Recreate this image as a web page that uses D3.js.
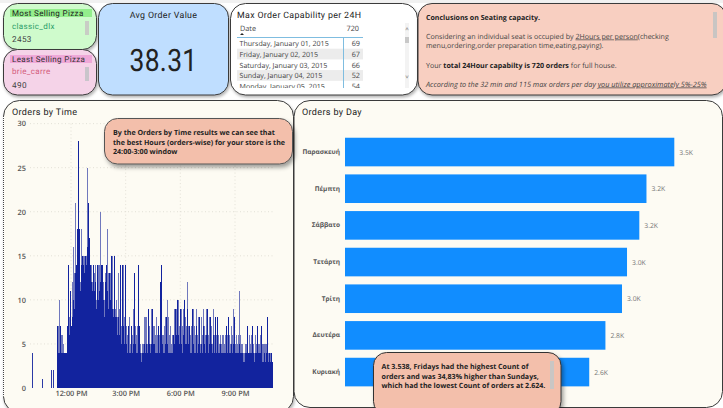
<!DOCTYPE html>
<html><head><meta charset="utf-8">
<script src="https://cdnjs.cloudflare.com/ajax/libs/d3/7.8.5/d3.min.js"></script>
<style>
html,body{margin:0;padding:0;background:#fff;overflow:hidden}
svg{display:block}
text{font-family:"Open Sans",sans-serif;text-rendering:geometricPrecision}
.din{font-family:Roboto,sans-serif;letter-spacing:.35px}
.tick text{font-family:"Open Sans",sans-serif}
</style></head><body>
<svg id="c" width="723" height="408"></svg>
<script>
// ---- data ----
const dayNames = ["Παρασκευή","Πέμπτη","Σάββατο","Τετάρτη","Τρίτη","Δευτέρα","Κυριακή"];
const dayOrders = [3538,3239,3162,3030,2976,2798,2624];
const timeTicks = [720,900,1080,1260];
const timeTickLabels = ["12:00 PM","3:00 PM","6:00 PM","9:00 PM"];
const countTicks = [0,5,10,15,20,25,30];
const earlyMinutes = [593,625,653,662];
const earlyOrders = [4,1,2,2];
const firstMinute = 674, minuteStep = 3.293;
const ordersPeak = [
7,7,10,7,6,6,5,4,4,4, 7,14,8,11,7,12,16,13,21,14,
18,28,18,12,18,15,15,15,15,15, 25,21,17,14,14,12,14,13,14,10,
14,14,14,20,14,14,12,10,13,14, 18,13,13,13,15,15,9,15,9,10,
8,13,9,14,7,14,14,8,14,7, 6,7,8,5,7,6,9,13,7,6,
7,14,7,5,4,5,5,8,8,8, 5,9,7,5,9,9,7,7,6,8,
6,7,6,12,14,6,6,7,8,8, 10,8,6,7,5,6,6,9,9,9,
10,10,7,9,9,7,9,10,8,7, 12,7,7,6,7,9,9,7,6,9,
6,8,8,5,8,6,9,7,6,9, 9,6,8,8,7,5,9,6,8,6,
8,6,5,6,5,6,6,5,6,7, 6,8,6,5,7,6,9,8,5,6,
5,6,11,6,5,5,4,4,5,5, 7,4,6,5,6,7,5,4,6,5,
7,5,5,6,7,5,5,5,5,5, 8,4,4,4,4,3];
const ordersCore = [
7,4,4,7,4,4,4,4,4,4, 7,14,6,11,7,8,10,9,13,14,
18,28,18,11,14,15,14,13,15,14, 16,21,17,14,12,11,14,11,12,9,
14,10,11,12,14,14,10,8,12,14, 11,9,13,10,15,9,8,15,8,8,
6,8,6,14,5,14,7,5,14,5, 4,7,4,4,7,4,5,13,5,4,
4,14,7,4,3,4,4,5,4,5, 4,9,5,4,5,9,5,5,4,4,
4,7,4,12,14,5,4,4,5,8, 5,4,4,4,4,4,6,5,9,6,
10,6,5,9,5,4,6,10,5,5, 9,5,7,4,4,9,5,4,4,7,
4,5,8,4,5,4,7,5,4,6, 9,4,5,8,5,4,6,4,8,4,
8,4,4,5,4,4,4,4,4,7, 4,8,4,4,5,4,5,8,4,4,
4,4,5,4,4,4,3,3,4,4, 7,4,4,4,4,7,4,3,4,4,
7,4,4,4,7,3,3,4,3,4, 8,3,4,3,4,3];
const tableDates = ["Thursday, January 01, 2015","Friday, January 02, 2015","Saturday, January 03, 2015","Sunday, January 04, 2015","Monday, January 05, 2015"];
const tableCounts = [69,67,66,52,54];

// ---- helpers ----
const svg = d3.select("#c");
const defs = svg.append("defs");
const f = defs.append("filter").attr("id","sh").attr("x","-10%").attr("y","-10%").attr("width","125%").attr("height","130%");
f.append("feDropShadow").attr("dx",2).attr("dy",3).attr("stdDeviation",2.2).attr("flood-color","#000").attr("flood-opacity",.38);
const f2 = defs.append("filter").attr("id","sh2").attr("x","-5%").attr("y","-10%").attr("width","110%").attr("height","125%");
f2.append("feDropShadow").attr("dx",1).attr("dy",2).attr("stdDeviation",1.5).attr("flood-color","#000").attr("flood-opacity",.3);
const clipT = defs.append("clipPath").attr("id","tc"); clipT.append("rect").attr("x",232).attr("y",36).attr("width",135).attr("height",52);

function card(x,y,w,h,r,fill,opt={}){
  return svg.append("rect").attr("x",x).attr("y",y).attr("width",w).attr("height",h).attr("rx",r)
    .attr("fill",fill).attr("stroke",opt.stroke||"#3a3a3a").attr("stroke-width",opt.sw||1)
    .attr("filter",opt.filter||null);
}
function txt(x,y,s,size,fill,opt={}){
  const t = svg.append("text").attr("x",x).attr("y",y).attr("font-size",size).attr("fill",fill).text(s);
  if(opt.cls) t.attr("class",opt.cls);
  if(opt.anchor) t.attr("text-anchor",opt.anchor);
  if(opt.weight) t.attr("font-weight",opt.weight);
  return t;
}
function rect(x,y,w,h,fill){return svg.append("rect").attr("x",x).attr("y",y).attr("width",w).attr("height",h).attr("fill",fill);}

// top strip
rect(0,0,723,3,"#f1f1f1");

// lower panels
card(3.5,100.5,290,312,16,"#fdfbf3",{filter:"url(#sh2)"});
card(294,100.5,428.5,307,16,"#fdfbf3");
svg.append("line").attr("x1",3.5).attr("x2",3.5).attr("y1",116).attr("y2",396).attr("stroke","#fff").attr("stroke-width",1.2);
svg.append("line").attr("x1",3.5).attr("x2",3.5).attr("y1",116).attr("y2",396).attr("stroke","#444").attr("stroke-width",1).attr("stroke-dasharray","1 1");

// top cards
card(3.5,3.5,93,46,14,"#cffbcc",{filter:"url(#sh2)"});
rect(10,9,82,8,"#93ee8c");
txt(12,16,"Most Selling Pizza",8,"#222",{cls:"din"});
txt(12,28.5,"classic_dlx",8,"#2a9d68",{cls:"din"});
txt(12,42,"2453",8.2,"#444",{cls:"din"});
rect(85,21,4,14,"#c9cdc5");

card(3.5,49.5,93,45.5,14,"#f5d3e8",{filter:"url(#sh2)"});
rect(10,55,82,8,"#efa8d8");
txt(12,62,"Least Selling Pizza",8,"#333",{cls:"din"});
txt(12,74,"brie_carre",8,"#d4607e",{cls:"din"});
txt(12,88,"490",8.2,"#444",{cls:"din"});
rect(85,67,4,14,"#c9c5cb");

card(98.5,3.5,130,91.5,14,"#bfdeff",{filter:"url(#sh2)"});
txt(163.5,17.5,"Avg Order Value",8.8,"#222",{cls:"din",anchor:"middle"});
txt(129.5,70.5,"38.31",31,"#222",{cls:"din"}).attr("textLength",68).attr("lengthAdjust","spacingAndGlyphs");

// table card
card(230.5,3.5,187,91.5,15,"#ffffff",{filter:"url(#sh2)"});
txt(237,18,"Max Order Capability per 24H",8.8,"#222",{cls:"din"});
txt(240,31,"Date",7.3,"#444");
txt(359,31,"720",7.3,"#444",{anchor:"end"});
svg.append("path").attr("d",d3.line()([[240,35],[244,35],[242,33]])).attr("fill","#222");
const rowG = svg.append("g").attr("clip-path","url(#tc)");
const rowY = d3.scaleBand().domain(d3.range(tableDates.length)).range([38,91.5]);
rowG.selectAll("rect").data(tableDates).join("rect").attr("x",237).attr("width",126)
  .attr("y",(d,i)=>rowY(i)).attr("height",rowY.bandwidth())
  .attr("fill",(d,i)=>i%2?"#ececec":"none");
rowG.selectAll("text.d").data(tableDates).join("text").attr("class","d").attr("x",239.5)
  .attr("y",(d,i)=>rowY(i)+8.2).attr("font-size",7.1).attr("fill","#444").text(d=>d);
rowG.selectAll("text.n").data(tableCounts).join("text").attr("class","n").attr("x",360).attr("text-anchor","end")
  .attr("y",(d,i)=>rowY(i)+8.2).attr("font-size",7.3).attr("fill","#444").text(d=>d);
svg.append("line").attr("x1",237).attr("x2",363).attr("y1",37.5).attr("y2",37.5).attr("stroke","#7fbde0");
svg.append("line").attr("x1",343.5).attr("x2",343.5).attr("y1",37.5).attr("y2",88).attr("stroke","#7fbde0");
rect(405,23,4,65,"#f3f3f3"); rect(405,37,4,6,"#c8c8c8");
txt(407,31,"˄",6,"#666",{anchor:"middle"}); txt(407,79,"˅",6,"#666",{anchor:"middle"});

// conclusions card
card(418,3.5,308,91.5,14,"#f8cfc1",{filter:"url(#sh2)"});
rect(713,12,4,26,"#c9c5c3");
txt(426,20,"Conclusions on Seating capacity.",7.05,"#222",{weight:700});
const l1 = txt(426,38.5,"Considering an individual seat is occupied by ",7.1,"#444");
l1.append("tspan").attr("text-decoration","underline").text("2Hours per person");
l1.append("tspan").text("(checking");
txt(426,48,"menu,ordering,order preparation time,eating,paying).",7.1,"#444");
const l2 = txt(426,67.5,"Your ",7.1,"#444");
l2.append("tspan").attr("font-weight",700).attr("fill","#222").text("total 24Hour capabilty is 720 orders");
l2.append("tspan").text(" for full house.");
const l3 = txt(426,86.5,"According to the 32 min and 115 max orders per day ",7.3,"#444").attr("font-style","italic");
l3.append("tspan").attr("text-decoration","underline").text("you utilize approximately 5%-25%");

// ---- Orders by Time ----
txt(12,115,"Orders by Time",9,"#222",{cls:"din"});
const x = d3.scaleLinear().domain([720,1260]).range([71,235]);
const y = d3.scaleLinear().domain([0,30]).range([388,123.6]);
const gT = svg.append("g");
gT.selectAll("line.h").data(countTicks.slice(1)).join("line").attr("class","h")
  .attr("x1",30).attr("x2",274).attr("y1",d=>y(d)).attr("y2",d=>y(d))
  .attr("stroke","#d9d6cc").attr("stroke-width",.7).attr("stroke-dasharray","1 2.5");
gT.selectAll("line.v").data(timeTicks).join("line").attr("class","v")
  .attr("x1",d=>x(d)).attr("x2",d=>x(d)).attr("y1",123.6).attr("y2",388)
  .attr("stroke","#d9d6cc").attr("stroke-width",.7).attr("stroke-dasharray","1 2.5");
const minuteOf = (d,i)=>firstMinute+i*minuteStep;
gT.selectAll("rect.peak").data(ordersPeak).join("rect").attr("class","peak")
  .attr("shape-rendering","crispEdges")
  .attr("x",(d,i)=>Math.round(x(minuteOf(d,i)))).attr("width",1)
  .attr("y",d=>y(d)).attr("height",d=>y(0)-y(d)).attr("fill","#7078bd");
gT.selectAll("rect.core").data(ordersCore).join("rect").attr("class","core")
  .attr("shape-rendering","crispEdges")
  .attr("x",(d,i)=>Math.round(x(minuteOf(d,i)))).attr("width",1)
  .attr("y",d=>y(d)).attr("height",d=>y(0)-y(d)).attr("fill","#12239e");
gT.selectAll("rect.early").data(earlyOrders).join("rect").attr("class","early")
  .attr("shape-rendering","crispEdges")
  .attr("x",(d,i)=>Math.round(x(earlyMinutes[i]))).attr("width",1)
  .attr("y",d=>y(d)).attr("height",d=>y(0)-y(d)).attr("fill","#2b3aa6");
const axY = d3.axisLeft(y).tickValues(countTicks).tickSize(0).tickPadding(0);
const gy = svg.append("g").attr("transform","translate(26,0)").call(axY);
gy.select(".domain").remove();
gy.selectAll("text").attr("font-size",7.4).attr("font-weight",600).attr("fill","#555");
const axX = d3.axisBottom(x).tickValues(timeTicks).tickSize(0).tickPadding(0).tickFormat((d,i)=>timeTickLabels[i]);
const gx = svg.append("g").attr("transform","translate(0,391)").call(axX);
gx.select(".domain").remove();
gx.selectAll("text").attr("font-size",7.4).attr("font-weight",600).attr("fill","#555");

// ---- Orders by Day ----
txt(302,115,"Orders by Day",9,"#222",{cls:"din"});
const xd = d3.scaleLinear().domain([0,3538]).range([345,674.3]);
const yd = d3.scaleBand().domain(dayNames).range([133.7,390.4]).paddingInner(.22).paddingOuter(.11);
svg.selectAll("rect.day").data(dayOrders).join("rect").attr("class","day")
  .attr("x",xd(0)).attr("y",(d,i)=>yd(dayNames[i])).attr("height",yd.bandwidth())
  .attr("width",d=>xd(d)-xd(0)).attr("fill","#118dff");
const fmtK = v=>d3.format(".1f")(v/1000)+"K";
svg.selectAll("text.dl").data(dayOrders).join("text").attr("class","dl")
  .attr("x",d=>xd(d)+5).attr("y",(d,i)=>yd(dayNames[i])+yd.bandwidth()/2+2.5)
  .attr("font-size",6.8).attr("fill","#777").text(fmtK);
const gd = svg.append("g").attr("transform","translate(340,0)").call(d3.axisLeft(yd).tickSize(0).tickPadding(0));
gd.select(".domain").remove();
gd.selectAll("text").attr("font-size",6.5).attr("font-weight",700).attr("fill","#555");

// ---- callouts ----
card(104.5,118.5,188,45.5,13,"#f3bfab",{filter:"url(#sh)",stroke:"#555"});
["By the Orders by Time results we can see that","the best Hours (orders-wise) for your store is the","24:00-3:00 window"]
  .forEach((s,i)=>txt(113,135+i*9.6,s,7.1,"#222",{weight:700}));
card(373.5,352.5,187.5,62,13,"#f3bfab",{filter:"url(#sh)",stroke:"#333"});
rect(550,361,4,28,"#c9c6c4");
["At 3.538, Fridays had the highest Count of","orders and was 34,83% higher than Sundays,","which had the lowest Count of orders at 2.624."]
  .forEach((s,i)=>txt(381.5,369+i*9.6,s,7.1,"#222",{weight:700}));
</script>
</body></html>
